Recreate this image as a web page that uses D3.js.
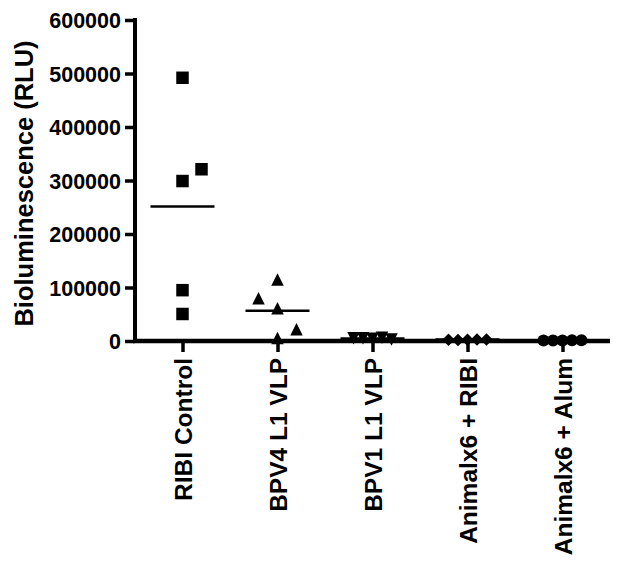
<!DOCTYPE html>
<html>
<head>
<meta charset="UTF-8">
<title>Bioluminescence</title>
<script src="https://d3js.org/d3.v7.min.js"></script>
<style>
    html, body { margin:0; padding:0; background:#fff; }
    svg text { font-family: "Liberation Sans", Arial, sans-serif; font-weight: bold; fill:#000; }
</style>
</head>
<body>
<div id="chart"></div>
<script>
    // groupes et valeurs (RLU)
    const groups = ["RIBI Control", "BPV4 L1 VLP", "BPV1 L1 VLP", "Animalx6 + RIBI", "Animalx6 + Alum"];
    const ribiControl = [50500, 95000, 299000, 321000, 492000];
    const bpv4 = [5600, 22000, 61000, 80000, 115000];
    const bpv1 = [4000, 6000, 5000, 3000, 5000];
    const animalRibi = [2500, 3000, 2000, 3000, 2500];
    const animalAlum = [1000, 1500, 800, 1200, 1000];
    const yTicks = [0, 100000, 200000, 300000, 400000, 500000, 600000];

    const series = [ribiControl, bpv4, bpv1, animalRibi, animalAlum];
    const shapes = ["square", "triangle", "triangleDown", "diamond", "circle"];

    const width = 624, height = 566;
    const svg = d3.select("#chart").append("svg")
        .attr("width", width)
        .attr("height", height);

    const x = d3.scalePoint().domain(groups).range([135, 610]).padding(0.5);
    const y = d3.scaleLinear().domain([0, 600000]).range([341, 20]);

    // axe Y
    const yAxis = svg.append("g")
        .attr("transform", "translate(135,0)")
        .call(d3.axisLeft(y).tickValues(yTicks).tickFormat(d3.format("d")).tickSize(10).tickSizeOuter(0).tickPadding(4));
    yAxis.select(".domain").attr("stroke-width", 4).attr("d", `M0,${y(600000) - 2}V${y(0)}`);
    yAxis.selectAll(".tick line").attr("stroke-width", 3.5);
    yAxis.selectAll(".tick text").style("font-size", "21.5px").attr("dy", "0.36em");

    // axe X
    const xAxis = svg.append("g")
        .attr("transform", `translate(0,${y(0)})`)
        .call(d3.axisBottom(x).tickSize(11).tickSizeOuter(0));
    xAxis.select(".domain").attr("stroke-width", 4.5).attr("d", `M133,0H610`);
    xAxis.selectAll(".tick line").attr("stroke-width", 3.5);
    xAxis.selectAll(".tick text")
        .style("font-size", "24.5px")
        .style("text-anchor", "end")
        .attr("transform", "rotate(-90)")
        .attr("x", -17)
        .attr("y", 0)
        .attr("dy", "0.36em");

    // titre Y
    svg.append("text")
        .attr("transform", `translate(33,${(y(0) + y(600000)) / 2 + 3}) rotate(-90)`)
        .style("text-anchor", "middle")
        .style("font-size", "25.5px")
        .text("Bioluminescence (RLU)");

    // formes des marqueurs, centrées sur la boite
    function shapePath(type, s) {
        const h = s / 2;
        if (type === "square") return `M${-h},${-h}H${h}V${h}H${-h}Z`;
        if (type === "triangle") return `M0,${-h}L${h},${h}L${-h},${h}Z`;
        if (type === "triangleDown") return `M${-h},${-h}L${h},${-h}L0,${h}Z`;
        if (type === "diamond") return `M0,${-h}L${h},0L0,${h}L${-h},0Z`;
        return d3.symbol(d3.symbolCircle, Math.PI * h * h)();
    }

    // dispersion horizontale quand les points se chevauchent
    function spread(values) {
        const placed = [];
        let side = 1;
        values.forEach(v => {
            const py = y(v);
            const candidates = [0];
            for (let k = 1; k <= 4; k++) candidates.push(side * k, -side * k);
            for (const slot of candidates) {
                const hit = placed.some(p => p.slot === slot && Math.abs(p.py - py) < 13);
                if (!hit) {
                    placed.push({ v, py, slot });
                    if (slot !== 0) side = -side;
                    break;
                }
            }
        });
        const maxSlot = d3.max(placed, p => Math.abs(p.slot)) || 1;
        const step = Math.min(19, 19 / maxSlot);
        placed.forEach(p => p.dx = p.slot * step);
        return placed;
    }

    const plot = svg.append("g");
    series.forEach((vals, i) => {
        const g = groups[i];
        const pts = spread(vals);
        plot.selectAll(null)
            .data(pts)
            .join("path")
            .attr("transform", d => `translate(${x(g) + d.dx},${d.py})`)
            .attr("d", shapePath(shapes[i], shapes[i] === "circle" ? 12 : 12.5))
            .attr("fill", "#000");

        const m = d3.mean(vals);
        plot.append("line")
            .attr("x1", x(g) - 32)
            .attr("x2", x(g) + 32)
            .attr("y1", y(m))
            .attr("y2", y(m))
            .attr("stroke", "#000")
            .attr("stroke-width", 2.5);
    });
</script>
</body>
</html>
